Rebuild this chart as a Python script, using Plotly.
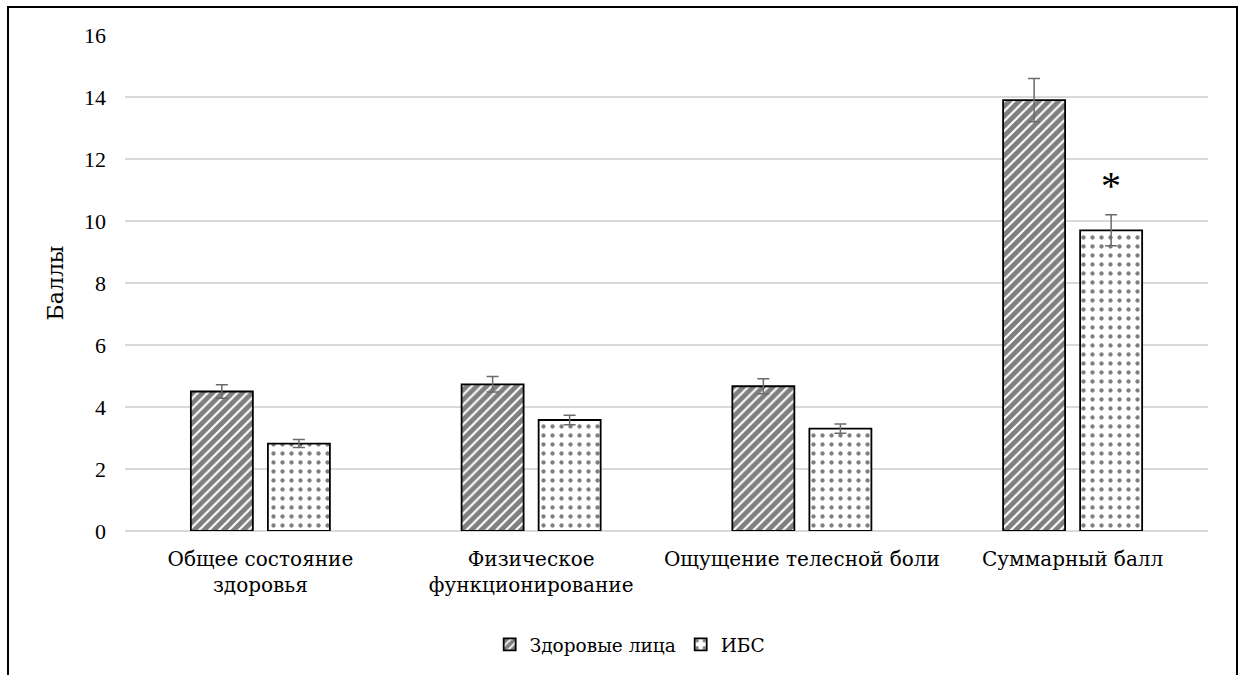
import plotly.graph_objects as go

categories = ["Общее состояние<br>здоровья", "Физическое<br>функционирование",
              "Ощущение телесной боли", "Суммарный балл"]
healthy = [4.5, 4.73, 4.67, 13.9]
healthy_err = [0.22, 0.25, 0.24, 0.7]
ibs = [2.82, 3.58, 3.3, 9.7]
ibs_err = [0.13, 0.15, 0.15, 0.5]
series_names = ["Здоровые лица", "ИБС"]
y_ticks = [0, 2, 4, 6, 8, 10, 12, 14, 16]

NUM_FONT = "Liberation Serif"
CYR_FONT = "DejaVu Serif"

fig = go.Figure()
fig.add_trace(go.Bar(
    name=series_names[0], x=categories, y=healthy,
    error_y=dict(type="data", array=healthy_err, color="#6b6b6b", thickness=1.5, width=6),
    marker=dict(color="white", line=dict(color="black", width=1.8),
                pattern=dict(shape="/", fgcolor="black", bgcolor="white", size=7, solidity=0.7)),
))
fig.add_trace(go.Bar(
    name=series_names[1], x=categories, y=ibs,
    error_y=dict(type="data", array=ibs_err, color="#6b6b6b", thickness=1.5, width=6),
    marker=dict(color="white", line=dict(color="black", width=1.8),
                pattern=dict(shape=".", fgcolor="black", bgcolor="white", size=9, solidity=0.18)),
))

fig.add_annotation(x=categories[3], y=11.15, xref="x", yref="y", text="*",
                   showarrow=False, xshift=38.5, yanchor="middle",
                   font=dict(family=NUM_FONT, size=40, color="black"))

# outer frame
fig.add_shape(type="rect", xref="paper", yref="paper",
              x0=(8 - 125) / 1083, x1=(1237 - 125) / 1083,
              y0=(532 - 700) / 497, y1=(532 - 7) / 497,
              line=dict(color="black", width=2), fillcolor="rgba(0,0,0,0)", layer="above")

fig.update_layout(
    width=1242, height=675,
    margin=dict(l=125, r=34, t=35, b=143),
    paper_bgcolor="white", plot_bgcolor="white",
    font=dict(family=CYR_FONT, size=19, color="black"),
    barmode="group", bargap=0.431, bargroupgap=0.195,
    showlegend=True,
    legend=dict(orientation="h", x=0.466, xanchor="center", y=-0.227, yanchor="middle",
                font=dict(family=CYR_FONT, size=18.5), itemwidth=30),
    xaxis=dict(showgrid=False, showline=False, ticks="", ticklabelstandoff=14,
               tickfont=dict(family=CYR_FONT, size=20)),
    yaxis=dict(range=[0, 16], tickvals=y_ticks, showgrid=True, gridcolor="#d9d9d9", gridwidth=1.5,
               zeroline=True, zerolinecolor="#d9d9d9", zerolinewidth=1.5, showline=False,
               ticklabelstandoff=18, tickfont=dict(family=NUM_FONT, size=22),
               title=dict(text="Баллы", font=dict(family=CYR_FONT, size=22), standoff=14)),
)

fig.write_html("out.html", config={"displayModeBar": False},
               post_script="document.body.style.margin='0';document.body.style.overflow='hidden';")
